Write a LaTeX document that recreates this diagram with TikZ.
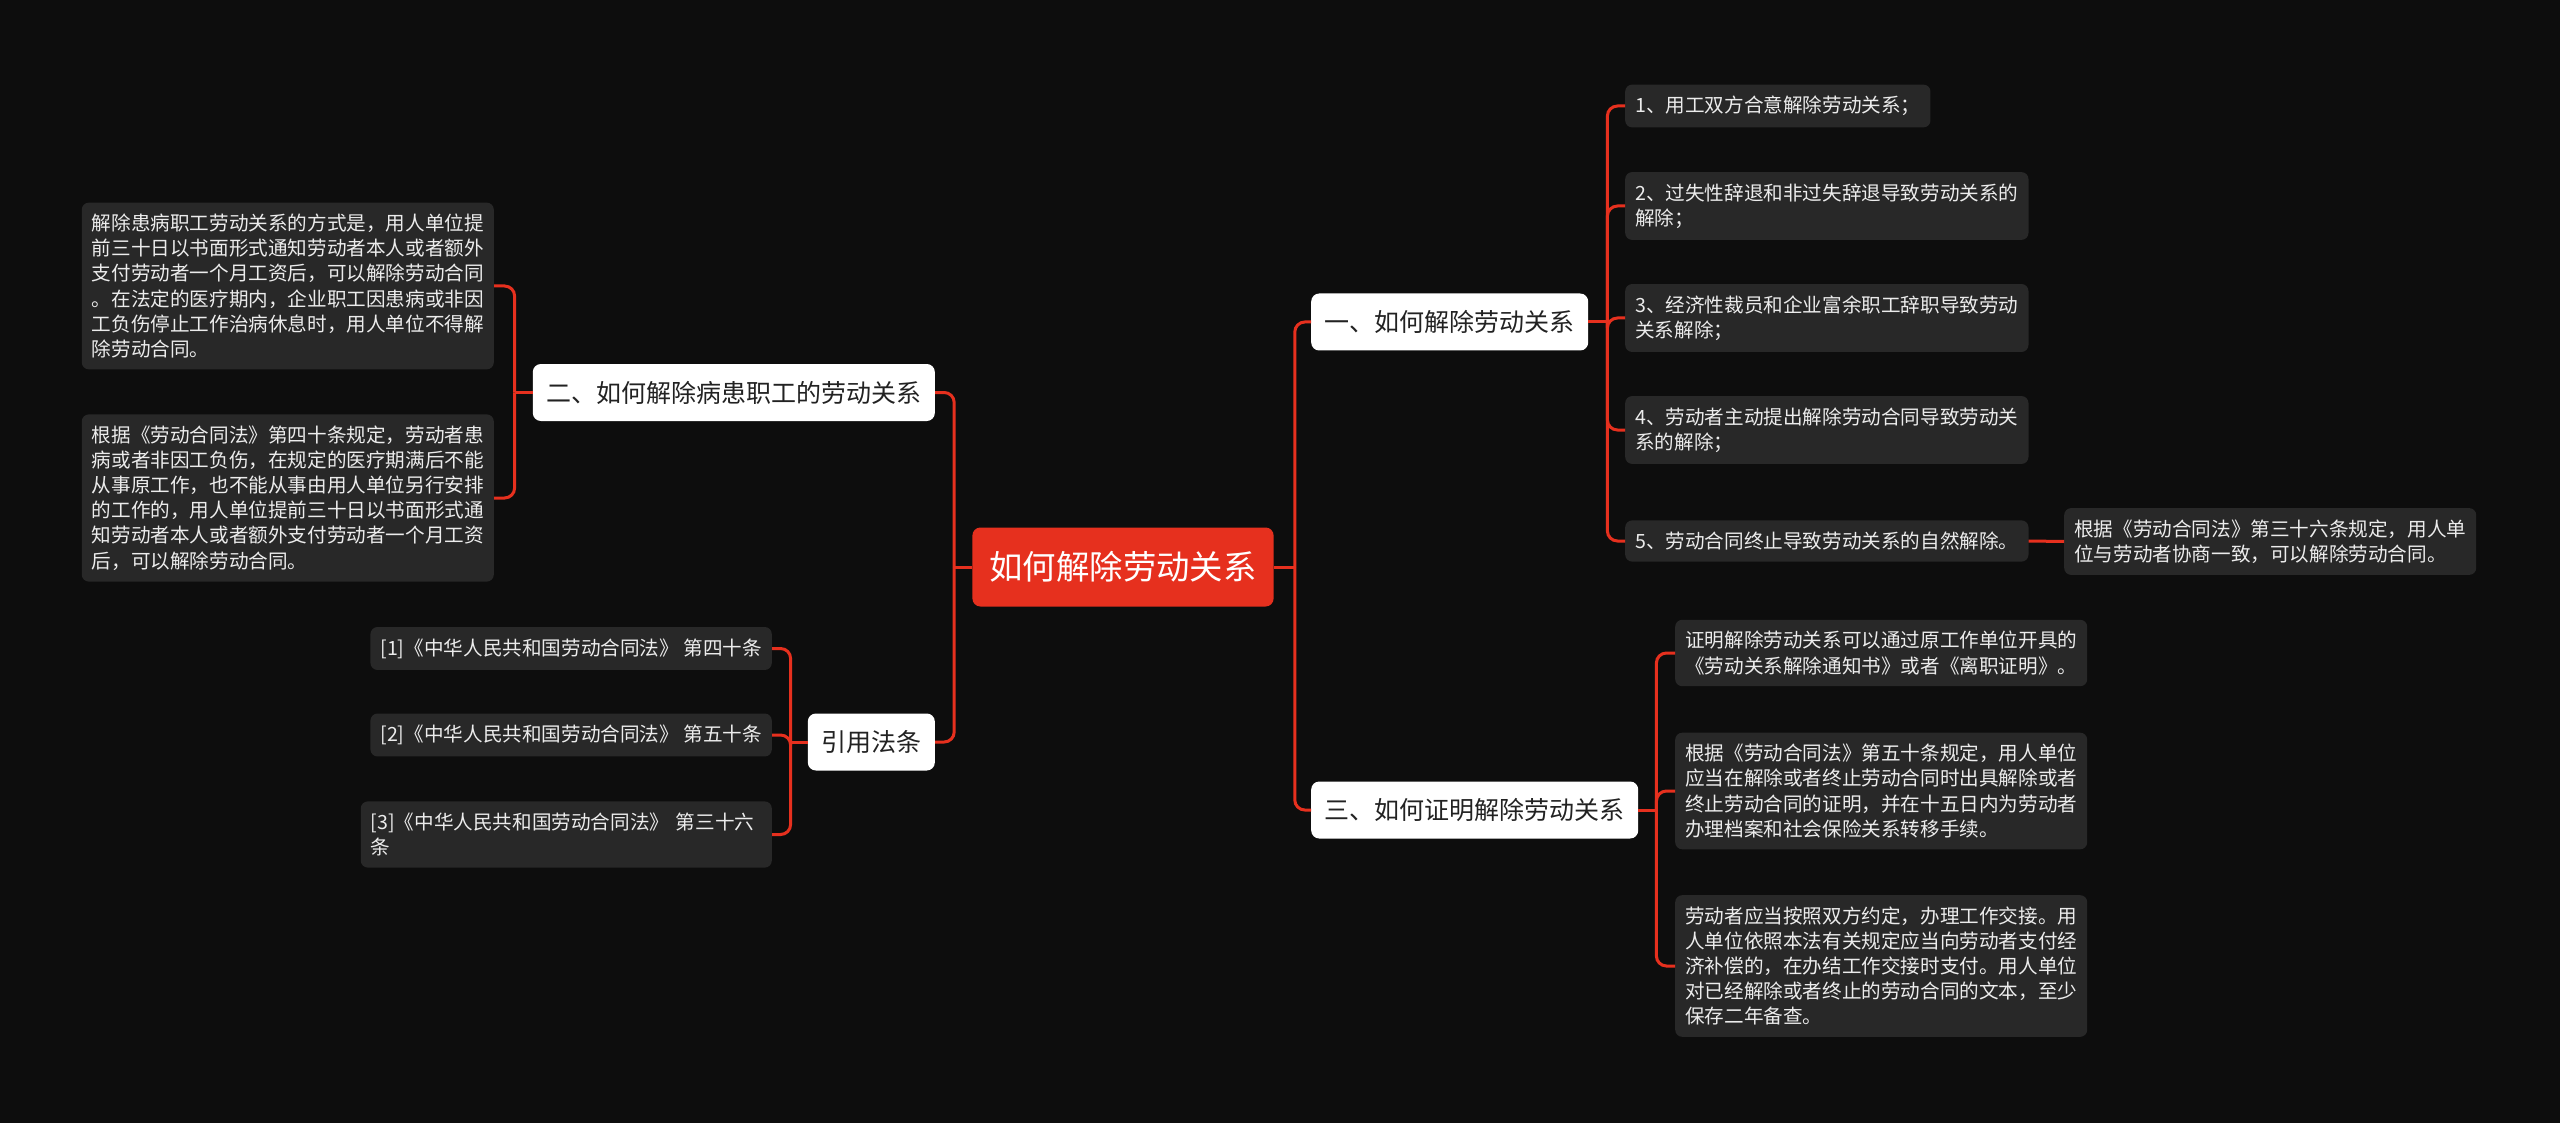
\documentclass[tikz,border=0pt]{standalone}
\usepackage{fontspec}
\newfontfamily\cjk{Noto Sans CJK SC}
\definecolor{bgc}{RGB}{13,13,13}
\definecolor{leafc}{RGB}{40,40,40}
\definecolor{redc}{RGB}{230,48,30}
\definecolor{darktxt}{RGB}{34,34,34}
\definecolor{leaftxt}{RGB}{236,236,236}
\begin{document}
\begin{tikzpicture}[x=1pt,y=-1pt,
	root/.style={fill=redc, text=white, rounded corners=8pt, inner xsep=17pt, minimum height=79pt, font=\cjk\fontsize{33.4}{40}\selectfont},
	topic/.style={fill=white, text=darktxt, rounded corners=8pt, inner xsep=13.5pt, minimum height=57pt, font=\cjk\fontsize{25}{30}\selectfont},
	leaf/.style={fill=leafc, text=leaftxt, rounded corners=7pt, inner xsep=10pt, inner ysep=11.5pt, align=left, font=\cjk\fontsize{19.6}{25.1}\selectfont},
	link/.style={draw=redc, line width=3pt, rounded corners=10pt}]
		%Background and page
		\useasboundingbox (0,0) rectangle (2560,1123);
		\fill[bgc] (0,0) rectangle (2560,1123);
		%Centre and main topics
		\node[root] (root) at (1123,567) {如何解除劳动关系};
		\node[topic, anchor=west] (one) at (1311,322) {一、如何解除劳动关系};
		\node[topic, anchor=west] (three) at (1311,810) {三、如何证明解除劳动关系};
		\node[topic, anchor=east] (two) at (935,392.5) {二、如何解除病患职工的劳动关系};
		\node[topic, anchor=east] (cite) at (935,742) {引用法条};
		%Right side leaves
		\node[leaf, anchor=west] (o1) at (1625,106) {1、用工双方合意解除劳动关系；};
		\node[leaf, anchor=west] (o2) at (1625,206) {2、过失性辞退和非过失辞退导致劳动关系的\\解除；};
		\node[leaf, anchor=west] (o3) at (1625,318) {3、经济性裁员和企业富余职工辞职导致劳动\\关系解除；};
		\node[leaf, anchor=west] (o4) at (1625,430) {4、劳动者主动提出解除劳动合同导致劳动关\\系的解除；};
		\node[leaf, anchor=west] (o5) at (1625,541) {5、劳动合同终止导致劳动关系的自然解除。};
		\node[leaf, anchor=west] (o5a) at (2064,541.5) {根据《劳动合同法》第三十六条规定，用人单\\位与劳动者协商一致，可以解除劳动合同。};
		\node[leaf, anchor=west] (t1) at (1675,653) {证明解除劳动关系可以通过原工作单位开具的\\《劳动关系解除通知书》或者《离职证明》。};
		\node[leaf, anchor=west] (t2) at (1675,791) {根据《劳动合同法》第五十条规定，用人单位\\应当在解除或者终止劳动合同时出具解除或者\\终止劳动合同的证明，并在十五日内为劳动者\\办理档案和社会保险关系转移手续。};
		\node[leaf, anchor=west] (t3) at (1675,966) {劳动者应当按照双方约定，办理工作交接。用\\人单位依照本法有关规定应当向劳动者支付经\\济补偿的，在办结工作交接时支付。用人单位\\对已经解除或者终止的劳动合同的文本，至少\\保存二年备查。};
		%Left side leaves
		\node[leaf, anchor=east] (s1) at (494,286) {解除患病职工劳动关系的方式是，用人单位提\\前三十日以书面形式通知劳动者本人或者额外\\支付劳动者一个月工资后，可以解除劳动合同\\。在法定的医疗期内，企业职工因患病或非因\\工负伤停止工作治病休息时，用人单位不得解\\除劳动合同。};
		\node[leaf, anchor=east] (s2) at (494,498) {根据《劳动合同法》第四十条规定，劳动者患\\病或者非因工负伤，在规定的医疗期满后不能\\从事原工作，也不能从事由用人单位另行安排\\的工作的，用人单位提前三十日以书面形式通\\知劳动者本人或者额外支付劳动者一个月工资\\后，可以解除劳动合同。};
		\node[leaf, anchor=east] (c1) at (772,648.5) {[1]《中华人民共和国劳动合同法》 第四十条};
		\node[leaf, anchor=east] (c2) at (772,735) {[2]《中华人民共和国劳动合同法》 第五十条};
		\node[leaf, anchor=east, text width=391pt] (c3) at (772,834.5) {[3]《中华人民共和国劳动合同法》 第三十六\\条};
		%Junctions
		\coordinate (rr) at ([xshift=21pt]root.east);
		\coordinate (rl) at ([xshift=-18pt]root.west);
		\coordinate (oj) at ([xshift=19pt]one.east);
		\coordinate (tj) at ([xshift=18pt]three.east);
		\coordinate (sj) at ([xshift=-18pt]two.west);
		\coordinate (cj) at ([xshift=-17pt]cite.west);
		%Connectors
		\draw[link] (root.east) -- (rr);
		\draw[link] (root.west) -- (rl);
		\foreach \n in {one,three} \draw[link] (rr) |- (\n.west);
		\foreach \n in {two,cite} \draw[link] (rl) |- (\n.east);
		\draw[link] (one.east) -- (oj);
		\foreach \n in {o1,o2,o3,o4,o5} \draw[link] (oj) |- (\n.west);
		\draw[link] (o5.east) -- (o5a.west);
		\draw[link] (three.east) -- (tj);
		\foreach \n in {t1,t2,t3} \draw[link] (tj) |- (\n.west);
		\draw[link] (two.west) -- (sj);
		\foreach \n in {s1,s2} \draw[link] (sj) |- (\n.east);
		\draw[link] (cite.west) -- (cj);
		\foreach \n in {c1,c2,c3} \draw[link] (cj) |- (\n.east);
\end{tikzpicture}
\end{document}
